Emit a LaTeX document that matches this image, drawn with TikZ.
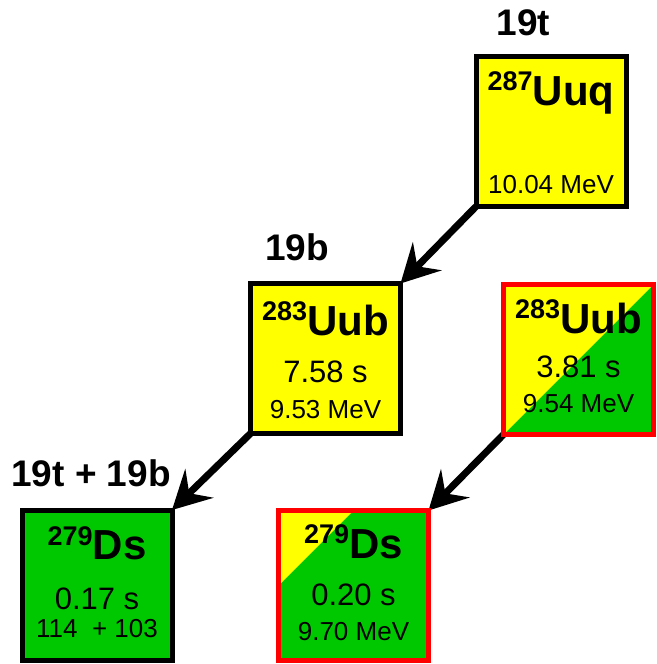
\documentclass[tikz,border=0pt]{standalone}
\usepackage{fontspec}
\setmainfont{Liberation Sans}
\usetikzlibrary{arrows.meta}
\definecolor{nyellow}{RGB}{255,255,0}
\definecolor{ngreen}{RGB}{0,200,0}
\definecolor{nred}{RGB}{255,0,0}
\pgfdeclarelayer{bg}
\pgfsetlayers{bg,main}
\newcommand\nuc[2]{\raisebox{14.5pt}{\fontsize{27}{27}\selectfont\bfseries #1}{\fontsize{42}{42}\selectfont\bfseries #2}}
\newcommand\tval{\fontsize{31}{31}\selectfont}
\newcommand\eval{\fontsize{26}{26}\selectfont}
\tikzset{
  box/.style={minimum size=150pt, inner sep=0pt, outer sep=0pt, line width=5pt, draw},
  ybox/.style={box, draw=black, fill=nyellow},
  gbox/.style={box, draw=black, fill=ngreen},
  rbox/.style={box, draw=nred, fill=ngreen},
  txt/.style={anchor=base, inner sep=0pt},
  lbl/.style={anchor=base, inner sep=0pt, font=\fontsize{37}{37}\selectfont\bfseries},
  arr/.style={line width=7pt, -{Stealth[length=38pt,width=40pt,inset=14pt]}}
}
\begin{document}
\begin{tikzpicture}[x=1pt,y=1pt]
\useasboundingbox (0,0) rectangle (656,-664);
% boxes
\node[ybox] (uuq) at (551,-131.5) {};
\node[ybox] (uubA) at (325.5,-358.5) {};
\node[rbox, path picture={\fill[nyellow] (path picture bounding box.south west) -- (path picture bounding box.north west) -- (path picture bounding box.north east) -- cycle;}] (uubB) at (578.5,-359.5) {};
\node[gbox] (dsA) at (97,-585) {};
\node[rbox, path picture={\fill[nyellow] (path picture bounding box.west) -- (path picture bounding box.north west) -- (path picture bounding box.north) -- cycle;}] (dsB) at (353.5,-585.5) {};
% texts
\node[txt] (uuqN) at ([yshift=-48.5pt]uuq.north) {\nuc{287}{Uuq}};
\node[txt] (uuqE) at ([yshift=-136.5pt]uuq.north) {\eval 10.04 MeV};
\node[txt] (uubAN) at ([yshift=-51.5pt]uubA.north) {\nuc{283}{Uub}};
\node[txt] (uubAT) at ([yshift=-98.5pt]uubA.north) {\tval 7.58 s};
\node[txt] (uubAE) at ([yshift=-134.5pt]uubA.north) {\eval 9.53 MeV};
\node[txt] (uubBN) at ([yshift=-48.5pt]uubB.north) {\nuc{283}{Uub}};
\node[txt] (uubBT) at ([yshift=-92.5pt]uubB.north) {\tval 3.81 s};
\node[txt] (uubBE) at ([yshift=-127.5pt]uubB.north) {\eval 9.54 MeV};
\node[txt] (dsAN) at ([yshift=-49.5pt]dsA.north) {\nuc{279}{Ds}};
\node[txt] (dsAT) at ([yshift=-99.5pt]dsA.north) {\tval 0.17 s};
\node[txt] (dsAE) at ([yshift=-127.5pt]dsA.north) {\eval 114\ \ + 103};
\node[txt] (dsBN) at ([yshift=-47.5pt]dsB.north) {\nuc{279}{Ds}};
\node[txt] (dsBT) at ([yshift=-94.5pt]dsB.north) {\tval 0.20 s};
\node[txt] (dsBE) at ([yshift=-129.5pt]dsB.north) {\eval 9.70 MeV};
% labels
\node[lbl] (l1) at (523.5,-35) {19t};
\node[lbl] (l2) at (297,-260) {19b};
\node[lbl] (l3) at (91,-486) {19t + 19b};
% arrows
\begin{pgfonlayer}{bg}
\draw[arr] (uuq.south west) -- (uubA.north east);
\draw[arr] (uubA.south west) -- (dsA.north east);
\draw[arr] (uubB.south west) -- (dsB.north east);
\end{pgfonlayer}
\end{tikzpicture}
\end{document}
